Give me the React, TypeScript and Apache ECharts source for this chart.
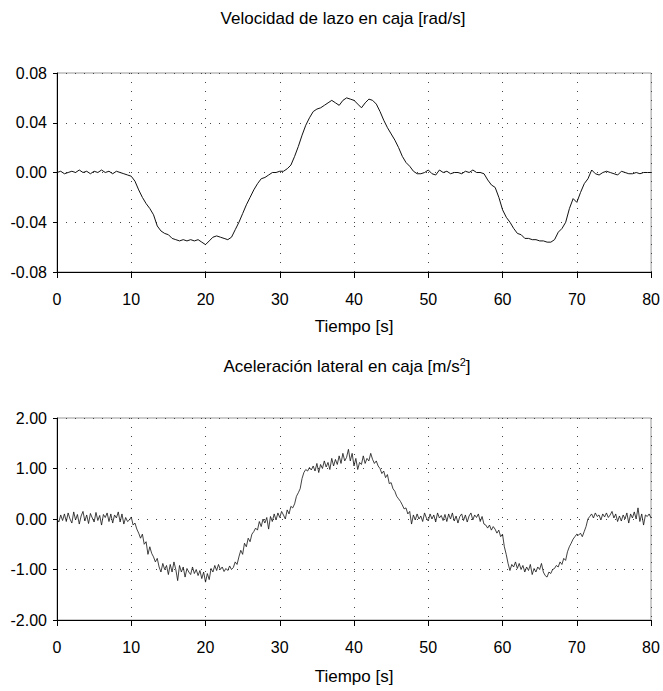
import React, { useEffect, useRef } from "react";
import * as echarts from "echarts";

const xTicks = [0, 10, 20, 30, 40, 50, 60, 70, 80];
const topTitle = "Velocidad de lazo en caja [rad/s]";
const bottomTitle = "Aceleración lateral en caja [m/s";
const xName = "Tiempo [s]";

// Top: yaw rate, every 0.5 s from 0 to 80
const velStep = 0.5;
const velocity = [
  0.000, 0.001, -0.001, 0.000, 0.001, 0.000, 0.002, 0.000, 0.001, -0.001,
  0.001, 0.000, 0.002, 0.000, 0.001, -0.001, 0.001, 0.000, -0.001, -0.002,
  -0.003, -0.007, -0.014, -0.020, -0.025, -0.029, -0.034, -0.043, -0.047, -0.049,
  -0.050, -0.053, -0.054, -0.055, -0.054, -0.055, -0.054, -0.055, -0.054, -0.056,
  -0.058, -0.055, -0.052, -0.051, -0.052, -0.053, -0.054, -0.052, -0.046, -0.040,
  -0.033, -0.026, -0.020, -0.014, -0.009, -0.005, -0.004, -0.002, 0.000, 0.000,
  0.001, 0.001, 0.003, 0.006, 0.013, 0.021, 0.030, 0.038, 0.044, 0.049,
  0.051, 0.052, 0.054, 0.056, 0.058, 0.056, 0.054, 0.058, 0.060, 0.059,
  0.058, 0.055, 0.052, 0.056, 0.059, 0.058, 0.055, 0.049, 0.042, 0.036,
  0.031, 0.026, 0.020, 0.013, 0.008, 0.005, 0.001, -0.001, -0.001, 0.000,
  0.002, -0.001, -0.002, 0.002, 0.000, 0.001, -0.001, 0.000, 0.000, -0.001,
  0.001, 0.000, 0.002, 0.000, 0.000, -0.001, -0.006, -0.010, -0.012, -0.020,
  -0.030, -0.036, -0.040, -0.045, -0.049, -0.050, -0.053, -0.053, -0.054, -0.054,
  -0.055, -0.055, -0.056, -0.056, -0.054, -0.048, -0.045, -0.040, -0.029, -0.021,
  -0.024, -0.016, -0.009, -0.005, 0.002, -0.001, -0.002, 0.000, 0.001, 0.000,
  -0.001, -0.002, 0.001, 0.000, -0.001, -0.001, 0.000, -0.001, 0.000, 0.000,
  0.000,
];

// Bottom: lateral acceleration, every 0.25 s from 0 to 80
const accStep = 0.25;
const acceleration = [
  0.00, -0.06, 0.08, -0.03, 0.10, -0.05, 0.12, 0.00, -0.08, 0.14, -0.02, 0.09,
  -0.10, 0.06, 0.15, -0.04, 0.08, -0.09, 0.11, 0.02, -0.06, 0.13, -0.03, 0.07,
  -0.12, 0.09, 0.03, 0.12, -0.05, 0.10, -0.08, 0.08, 0.02, 0.14, -0.06, 0.10,
  -0.10, 0.03, -0.05, -0.02, 0.04, -0.12, -0.08, -0.20, -0.28, -0.38, -0.30, -0.50,
  -0.45, -0.70, -0.55, -0.68, -0.75, -0.85, -0.78, -0.95, -1.05, -0.88, -1.00, -0.92,
  -1.10, -0.90, -1.05, -0.85, -1.00, -1.22, -0.92, -1.05, -0.95, -1.15, -0.98, -1.05,
  -1.10, -0.95, -1.08, -1.00, -1.12, -1.02, -1.18, -1.05, -1.25, -1.08, -1.20, -0.98,
  -1.05, -0.92, -1.02, -0.90, -1.00, -0.95, -1.04, -0.98, -1.02, -0.93, -1.00, -0.96,
  -0.85, -0.90, -0.75, -0.62, -0.70, -0.48, -0.55, -0.38, -0.45, -0.30, -0.25, -0.18,
  -0.22, -0.05, -0.15, 0.00, -0.08, 0.03, -0.20, 0.05, -0.05, 0.10, -0.02, 0.12,
  0.03, 0.15, 0.08, 0.00, 0.18, 0.10, 0.25, 0.22, 0.30, 0.45, 0.52, 0.60,
  0.80, 0.92, 0.98, 0.95, 1.02, 0.97, 1.05, 0.95, 1.10, 0.92, 1.08, 1.00,
  1.15, 1.03, 1.12, 0.98, 1.20, 1.05, 1.18, 1.08, 1.25, 1.10, 1.30, 1.15,
  1.22, 1.38, 1.15, 1.30, 1.05, 1.20, 0.98, 1.12, 1.08, 1.25, 1.10, 1.20,
  1.15, 1.30, 1.18, 1.10, 1.15, 1.05, 1.00, 0.90, 0.95, 0.82, 0.88, 0.70,
  0.72, 0.60, 0.55, 0.45, 0.40, 0.35, 0.28, 0.20, 0.22, 0.10, 0.15, -0.10,
  0.08, -0.02, 0.10, 0.00, 0.06, -0.05, 0.12, 0.02, -0.04, 0.10, 0.00, 0.08,
  -0.06, 0.12, 0.02, 0.07, -0.03, 0.09, -0.05, 0.10, 0.00, 0.12, -0.04, 0.06,
  -0.08, 0.05, 0.10, -0.03, 0.08, -0.06, 0.06, 0.12, -0.02, 0.08, 0.03, 0.10,
  -0.05, 0.05, -0.10, -0.12, -0.18, -0.12, -0.22, -0.15, -0.20, -0.28, -0.22, -0.35,
  -0.30, -0.55, -0.70, -0.88, -1.02, -0.90, -0.95, -0.85, -0.98, -0.88, -1.00, -0.92,
  -1.05, -0.95, -1.02, -0.90, -1.10, -0.98, -1.05, -0.95, -1.00, -0.88, -1.05, -1.12,
  -1.15, -1.05, -1.08, -1.00, -0.98, -0.92, -0.95, -0.85, -0.90, -0.78, -0.82, -0.65,
  -0.55, -0.48, -0.40, -0.35, -0.30, -0.32, -0.28, -0.35, -0.25, -0.15, 0.00, 0.05,
  0.10, 0.02, 0.12, 0.05, 0.08, -0.02, 0.10, 0.04, 0.12, 0.03, 0.08, 0.15,
  0.02, 0.10, -0.05, 0.06, -0.04, 0.08, 0.00, 0.12, -0.08, 0.10, 0.02, 0.14,
  0.00, 0.22, -0.05, 0.10, -0.12, 0.08, 0.05, 0.10, 0.02,
];

const FONT = "Liberation Sans, Arial, sans-serif";
const FS = 16;
const FT = 17;

export default function App() {
  const ref = useRef<HTMLDivElement>(null);
  useEffect(() => {
    if (!ref.current) return;
    const chart = echarts.init(ref.current, null, { renderer: "svg" });
    const velData = velocity.map((v, i) => [i * velStep, v]);
    const accData = acceleration.map((v, i) => [i * accStep, v]);
    const split = { show: true, lineStyle: { color: "#444", type: [1, 8] as any, width: 1 } };
    const xAxisBase = {
      type: "value",
      min: 0,
      max: 80,
      interval: 10,
      axisLine: { show: true, onZero: false, lineStyle: { color: "#000", width: 1 } },
      axisTick: { show: true, length: 6, lineStyle: { color: "#000" } },
      axisLabel: { color: "#000", fontSize: FS, fontFamily: FONT, margin: 19 },
      splitLine: split,
      name: xName,
      nameLocation: "middle",
      nameTextStyle: { color: "#000", fontSize: FT, fontFamily: FONT },
    };
    const yAxisBase = {
      type: "value",
      axisLine: { show: true, onZero: false, lineStyle: { color: "#000", width: 1 } },
      axisTick: { show: true, length: 4, lineStyle: { color: "#000" } },
      splitLine: split,
    };
    const yLabel = {
      color: "#000",
      fontSize: FS,
      fontFamily: FONT,
      margin: 10,
      formatter: (v: number) => v.toFixed(2),
    };
    chart.setOption({
      animation: false,
      backgroundColor: "#fff",
      title: [
        {
          text: topTitle,
          left: 338,
          top: 5,
          textAlign: "center",
          textStyle: { color: "#000", fontSize: FT, fontWeight: "normal", fontFamily: FONT },
        },
        {
          text: bottomTitle + "{sup|2}]",
          left: 342,
          top: 351,
          textAlign: "center",
          textStyle: {
            color: "#000",
            fontSize: FT,
            fontWeight: "normal",
            fontFamily: FONT,
            rich: {
              sup: { fontSize: 11, verticalAlign: "top", padding: [0, 0, 9, 0], fontFamily: FONT, color: "#000" },
            },
          },
        },
      ],
      grid: [
        { left: 57, top: 73, width: 595, height: 199, show: true, borderColor: "#999", borderWidth: 1 },
        { left: 57, top: 418, width: 594, height: 202, show: true, borderColor: "#999", borderWidth: 1 },
      ],
      xAxis: [
        { ...xAxisBase, gridIndex: 0, nameGap: 46 },
        { ...xAxisBase, gridIndex: 1, nameGap: 48 },
      ],
      yAxis: [
        { ...yAxisBase, gridIndex: 0, min: -0.08, max: 0.08, interval: 0.04, axisLabel: yLabel },
        { ...yAxisBase, gridIndex: 1, min: -2, max: 2, interval: 1, axisLabel: yLabel },
      ],
      series: [
        {
          type: "line",
          xAxisIndex: 0,
          yAxisIndex: 0,
          data: velData,
          showSymbol: false,
          symbol: "none",
          lineStyle: { color: "#111", width: 1 },
        },
        {
          type: "line",
          xAxisIndex: 1,
          yAxisIndex: 1,
          data: accData,
          showSymbol: false,
          symbol: "none",
          lineStyle: { color: "#111", width: 0.8 },
        },
      ],
    });
    return () => chart.dispose();
  }, []);
  return (
    <div
      ref={ref}
      style={{ position: "absolute", left: 0, top: 0, width: 663, height: 691, background: "#fff" }}
    />
  );
}
